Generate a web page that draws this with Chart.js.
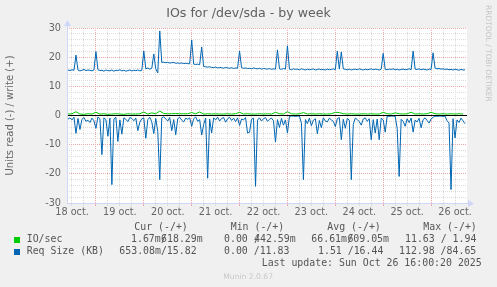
<!DOCTYPE html>
<html>
<head>
<meta charset="utf-8">
<script src="https://cdn.jsdelivr.net/npm/chart.js@4.4.0/dist/chart.umd.min.js"></script>
<style>
html, body { margin: 0; padding: 0; background: #f0f0f0; }
#wrap { position: relative; width: 497px; height: 287px; overflow: hidden; font-family: 'DejaVu Sans', sans-serif; color: #666; }
canvas { position: absolute; left: 0; top: 0; }
.t { position: absolute; white-space: pre; }
.title { left: 0; width: 497px; text-align: center; top: 5px; font-size: 12.6px; line-height: 15px; color: #606060; }
.m { font-family: 'DejaVu Sans Mono', monospace; font-size: 9.9px; line-height: 12px; color: #555; }
.sw { position: absolute; width: 6px; height: 6px; left: 14px; }
.wm { position: absolute; left: 484px; top: 5px; writing-mode: vertical-rl; font-size: 7.5px; color: #c4c4c4; white-space: pre; }
.ver { font-size: 7.6px; line-height: 9px; color: #c8c8c8; }
</style>
</head>
<body>
<div id="wrap">
  <canvas id="chart" width="497" height="287"></canvas>
  <div class="t title">IOs for /dev/sda - by week</div>
  <div class="wm">RRDTOOL / TOBI OETIKER</div>

  <div class="t m" style="left:134.3px;top:221px">Cur (-/+)</div>
  <div class="t m" style="left:230.7px;top:221px">Min (-/+)</div>
  <div class="t m" style="left:327.3px;top:221px">Avg (-/+)</div>
  <div class="t m" style="left:423.3px;top:221px">Max (-/+)</div>

  <div class="sw" style="top:237px;background:#00cc00"></div>
  <div class="t m" style="left:26.7px;top:233.2px">IO/sec</div>
  <div class="t m" style="left:131px;top:233.2px">1.67m</div>
  <div class="t m" style="left:161.1px;top:233.2px">/</div>
  <div class="t m" style="left:161.1px;top:233.2px">618.29m</div>
  <div class="t m" style="left:224px;top:233.2px">0.00</div>
  <div class="t m" style="left:254.1px;top:233.2px">/</div>
  <div class="t m" style="left:254.1px;top:233.2px">442.59m</div>
  <div class="t m" style="left:311.3px;top:233.2px">66.61m</div>
  <div class="t m" style="left:347.4px;top:233.2px">/</div>
  <div class="t m" style="left:347.4px;top:233.2px">609.05m</div>
  <div class="t m" style="left:405px;top:233.2px">11.63 / 1.94</div>

  <div class="sw" style="top:249px;background:#0066b3"></div>
  <div class="t m" style="left:26.7px;top:245.1px">Req Size (KB)</div>
  <div class="t m" style="left:119.3px;top:245.1px">653.08m/15.82</div>
  <div class="t m" style="left:224px;top:245.1px">0.00 /11.83</div>
  <div class="t m" style="left:318px;top:245.1px">1.51 /16.44</div>
  <div class="t m" style="left:399px;top:245.1px">112.98 /84.65</div>

  <div class="t m" style="left:261.7px;top:256.9px">Last update: Sun Oct 26 16:00:20 2025</div>
  <div class="t ver" style="left:223.3px;top:271.9px">Munin 2.0.67</div>
</div>
<script>
// time axis: hours after 18 oct. 00:00
const startHour = 10;
const axisMin = 9.5;
const axisMax = 210;
const dayLabels = ['18 oct.', '19 oct.', '20 oct.', '21 oct.', '22 oct.', '23 oct.', '24 oct.', '25 oct.', '26 oct.'];
const yLabelValues = [-30, -20, -10, 0, 10, 20, 30];

// Req Size (KB), one sample per hour
const writeKB = [
  15.6,15.4,15.7,15.5,20.7,15.6,15.3,15.5,15.8,15.4,
  15.6,15.5,15.3,15.6,21.9,15.7,15.4,15.5,15.2,15.6,
  15.4,15.3,15.6,15.2,15.5,15.4,15.7,15.3,15.5,15.2,
  15.4,15.6,15.3,15.5,15.4,15.6,15.3,15.5,22.1,16.0,
  16.3,15.9,16.2,21.1,16.0,14.6,29.0,18.2,18.3,18.1,
  18.2,18.0,18.1,18.2,17.9,18.0,17.9,18.0,17.8,17.9,
  17.8,17.7,25.9,17.6,17.5,17.6,17.4,23.5,16.8,16.7,
  16.6,16.7,16.5,16.4,16.6,16.3,16.5,16.4,16.2,16.5,
  16.3,16.2,16.4,16.1,16.3,16.2,22.1,16.4,16.2,16.3,
  16.1,16.2,16.0,16.3,16.1,16.0,16.2,15.9,16.1,16.0,
  15.9,16.1,15.8,16.0,15.9,22.5,16.0,15.8,16.1,15.9,
  23.9,15.9,15.7,16.0,15.8,15.9,15.7,16.0,15.8,15.6,
  15.9,15.7,15.8,16.0,15.6,15.8,15.9,15.7,15.8,15.6,
  15.9,15.7,15.8,16.0,15.7,22.1,15.9,21.8,16.0,15.8,
  15.7,15.9,15.6,15.8,15.9,15.7,16.0,15.8,15.6,15.9,
  15.7,15.8,16.0,15.7,15.9,15.8,15.6,15.9,21.3,15.8,
  15.7,15.9,15.8,16.0,15.7,15.9,15.6,15.8,15.9,15.7,
  15.8,16.0,15.7,22.1,15.9,15.8,16.0,15.7,15.9,15.8,
  15.6,15.9,15.8,21.5,16.2,16.0,16.1,15.9,16.0,15.8,
  15.9,15.7,15.8,15.6,15.9,15.7,15.5,15.8,15.6,15.7
];
const readKB = [
  1.2,0.8,1.5,0.6,6.1,1.0,4.8,1.3,0.7,2.0,
  1.6,2.4,0.9,1.8,4.4,0.5,1.1,13.4,0.8,1.4,
  7.1,0.9,23.7,1.2,0.6,8.9,1.5,6.4,0.8,1.3,
  2.1,0.7,1.0,1.8,0.9,5.2,2.3,1.1,0.8,7.8,
  1.4,0.6,2.2,6.2,1.0,5.5,22.0,0.8,0.4,1.2,
  1.9,0.7,5.2,1.4,6.6,1.1,0.6,1.6,2.2,0.9,
  1.3,0.8,3.7,1.1,0.5,2.0,1.4,6.7,3.1,0.9,
  21.5,1.2,6.0,0.8,1.5,0.6,1.9,1.0,0.7,2.3,
  1.1,0.6,1.7,0.9,2.1,0.8,3.4,1.2,1.5,0.7,
  6.0,5.7,1.3,0.9,24.3,1.6,0.8,1.9,1.1,0.7,
  2.0,1.3,0.9,1.8,9.1,1.4,4.1,1.0,3.3,1.5,
  6.0,0.3,0.2,0.2,0.3,0.2,0.2,2.6,22.0,1.4,
  2.8,0.9,3.5,1.6,1.1,6.3,1.7,4.2,0.8,1.9,
  2.2,0.9,1.5,2.0,3.8,1.1,0.7,8.3,1.3,4.4,
  1.0,1.6,22.0,3.0,0.9,1.4,2.1,3.3,1.2,0.8,
  2.0,1.1,8.3,1.4,6.0,1.2,8.3,0.9,1.5,5.7,
  0.2,0.3,0.2,0.2,0.3,4.4,20.9,1.3,2.0,3.7,
  1.1,2.4,0.9,5.7,1.6,2.2,1.0,4.2,1.4,0.8,
  1.7,2.6,1.2,0.6,0.2,0.3,0.2,0.2,0.3,0.2,
  1.8,2.6,25.4,1.1,7.7,1.5,2.4,0.9,1.8,2.8
];
// IO/sec (write), one sample per 2 hours
const ioStep = 2;
const ioWrite = [
  0.5,0.6,1.3,0.5,0.4,0.6,0.5,1.1,0.5,0.6,
  0.4,0.5,0.6,0.5,0.4,0.6,0.5,0.5,0.6,1.2,
  0.5,0.9,0.6,1.5,0.7,0.6,0.6,0.7,0.6,0.6,
  0.6,1.0,0.6,1.2,0.5,0.6,0.5,0.6,0.5,0.5,
  0.6,0.5,0.6,1.1,0.5,0.6,0.5,0.5,0.6,0.5,
  0.6,0.5,1.1,0.6,0.5,1.3,0.6,0.5,0.6,1.0,
  0.5,0.6,0.5,0.6,0.5,0.5,0.6,1.1,1.0,0.6,
  0.5,0.6,0.5,0.5,0.6,0.5,0.6,0.5,0.5,1.1,
  0.6,0.5,0.9,0.6,0.5,0.6,1.1,0.5,0.6,0.5,
  0.6,1.1,0.6,0.5,0.6,0.5,0.6,0.5,0.6,0.5
];

const GRID = '#dcdcdc';
const MGRID = '#f0a8a8';
const AXIS = '#cfd6f8';
const tickFont = { family: 'DejaVu Sans', size: 9.7 };

const toPoints = (arr, step, sign) => arr.map((v, i) => ({ x: startHour + i * step, y: sign * v }));

// background, zero line, axes with arrows
const muninFrame = {
  id: 'muninFrame',
  beforeDraw(chart) {
    const { ctx, chartArea: a } = chart;
    ctx.save();
    ctx.fillStyle = '#ffffff';
    ctx.fillRect(a.left, a.top, a.right - a.left, a.bottom - a.top);
    ctx.restore();
  },
  afterDatasetsDraw(chart) {
    const { ctx, chartArea: a, scales } = chart;
    const y0 = scales.y.getPixelForValue(0);
    ctx.save();
    ctx.strokeStyle = '#000000';
    ctx.lineWidth = 1;
    ctx.beginPath();
    ctx.moveTo(a.left, y0);
    ctx.lineTo(a.right, y0);
    ctx.stroke();

    ctx.strokeStyle = AXIS;
    ctx.fillStyle = AXIS;
    ctx.beginPath();
    ctx.moveTo(a.left + 0.5, a.bottom + 0.5);
    ctx.lineTo(a.right + 3, a.bottom + 0.5);
    ctx.moveTo(a.left + 0.5, a.bottom + 0.5);
    ctx.lineTo(a.left + 0.5, a.top - 4);
    ctx.stroke();
    ctx.beginPath();
    ctx.moveTo(a.right + 1, a.bottom - 3);
    ctx.lineTo(a.right + 7, a.bottom + 0.5);
    ctx.lineTo(a.right + 1, a.bottom + 4);
    ctx.closePath();
    ctx.fill();
    ctx.beginPath();
    ctx.moveTo(a.left - 3, a.top - 2);
    ctx.lineTo(a.left + 0.5, a.top - 8);
    ctx.lineTo(a.left + 4, a.top - 2);
    ctx.closePath();
    ctx.fill();
    ctx.restore();
  }
};

new Chart(document.getElementById('chart'), {
  type: 'line',
  data: {
    datasets: [
      { label: 'IO/sec', data: toPoints(ioWrite, ioStep, 1), borderColor: '#00cc00', borderWidth: 1, pointRadius: 0, tension: 0, order: 1 },
      { label: 'Req Size write', data: toPoints(writeKB, 1, 1), borderColor: '#0066b3', borderWidth: 1, pointRadius: 0, tension: 0, order: 2 },
      { label: 'Req Size read', data: toPoints(readKB, 1, -1), borderColor: '#0066b3', borderWidth: 1, pointRadius: 0, tension: 0, order: 2 }
    ]
  },
  options: {
    responsive: false,
    animation: false,
    devicePixelRatio: 1,
    layout: { padding: { top: 28, right: 30, bottom: 0, left: 0 } },
    plugins: { legend: { display: false }, title: { display: false }, tooltip: { enabled: false } },
    scales: {
      x: {
        type: 'linear',
        min: axisMin,
        max: axisMax,
        afterBuildTicks: s => {
          s.ticks = [];
          for (let t = 12; t < axisMax; t += 6) s.ticks.push({ value: t });
        },
        afterFit: s => { s.height = 84; },
        ticks: {
          autoSkip: false, maxRotation: 0, padding: 1, font: tickFont, color: '#666',
          callback: v => (v % 24 === 12 ? dayLabels[(v - 12) / 24] : '')
        },
        grid: {
          color: c => (c.tick && c.tick.value % 24 === 0 ? MGRID : GRID),
          tickColor: c => (c.tick && c.tick.value % 24 === 0 ? MGRID : GRID),
          lineWidth: 1, drawTicks: true, tickLength: 3
        },
        border: { display: false, dash: [1, 1] }
      },
      y: {
        min: -30,
        max: 30,
        afterBuildTicks: s => {
          s.ticks = [];
          for (let v = -30; v <= 30; v += 2) s.ticks.push({ value: v });
        },
        afterFit: s => { s.width = 67; },
        ticks: {
          autoSkip: false, padding: 6, font: tickFont, color: '#666',
          callback: v => (yLabelValues.includes(v) ? String(v) : '')
        },
        grid: {
          color: c => (c.tick && c.tick.value % 10 === 0 ? MGRID : GRID),
          lineWidth: 1, drawTicks: false
        },
        border: { display: false, dash: [1, 1] },
        title: {
          display: true, text: 'Units read (-) / write (+)', color: '#666',
          font: { family: 'DejaVu Sans', size: 10 }, padding: { top: 4, bottom: 0 }
        }
      }
    }
  },
  plugins: [muninFrame]
});
</script>
</body>
</html>
